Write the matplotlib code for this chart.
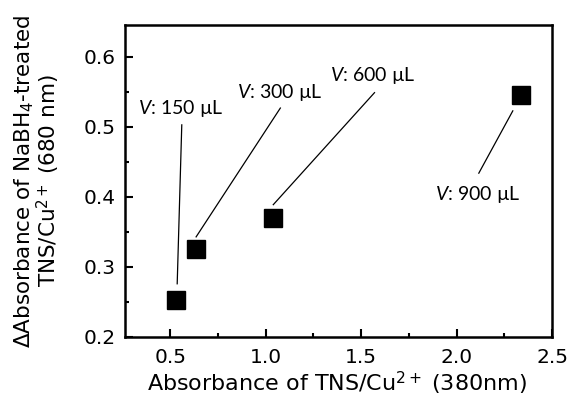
import numpy as np
import matplotlib
matplotlib.use('Agg')
import matplotlib.pyplot as plt
from matplotlib.ticker import MultipleLocator

plt.rcParams['font.family'] = ['DejaVu Sans']
plt.rcParams['mathtext.fontset'] = 'custom'
plt.rcParams['mathtext.rm'] = 'DejaVu Sans'
plt.rcParams['mathtext.it'] = 'Lato:italic'

abs_380 = [0.531, 0.636, 1.037, 2.336]
d_abs_680 = [0.253, 0.325, 0.370, 0.546]
labels = ['$V$: 150 µL', '$V$: 300 µL', '$V$: 600 µL', '$V$: 900 µL']

# label text centre, line start (near text), line end (near point) - data coords
text_pos = [(0.558, 0.527), (1.075, 0.549), (1.562, 0.573), (2.108, 0.404)]
line_from = [(0.561, 0.503), (1.077, 0.527), (1.570, 0.549), (2.294, 0.523)]
line_to = [(0.537, 0.276), (0.636, 0.343), (1.040, 0.389), (2.116, 0.434)]

fig = plt.figure(figsize=(5.71, 3.96), dpi=100)
ax = fig.add_axes([0.219, 0.149, 0.748, 0.788])

ax.plot(abs_380, d_abs_680, 's', color='black', markersize=13, linestyle='none')

for lab, tp, a, b in zip(labels, text_pos, line_from, line_to):
    ax.text(tp[0], tp[1], lab, ha='center', va='center', fontsize=14,
            family=['Lato', 'DejaVu Sans'])
    ax.plot([a[0], b[0]], [a[1], b[1]], color='black', lw=0.9)

ax.set_xlim(0.264, 2.5)
ax.set_ylim(0.2, 0.6457)
ax.xaxis.set_major_locator(MultipleLocator(0.5))
ax.xaxis.set_minor_locator(MultipleLocator(0.25))
ax.yaxis.set_major_locator(MultipleLocator(0.1))
ax.yaxis.set_minor_locator(MultipleLocator(0.05))
ax.set_xticks([0.5, 1.0, 1.5, 2.0, 2.5])
ax.tick_params(which='both', direction='in', width=1.5, labelsize=14.5)
ax.tick_params(which='major', length=6)
ax.tick_params(which='minor', length=3)
ax.tick_params(axis='x', pad=8)
ax.tick_params(axis='y', pad=7)
for s in ax.spines.values():
    s.set_linewidth(1.8)

ax.set_xlabel('Absorbance of TNS/Cu$^{2+}$ (380nm)', fontsize=16)
ax.xaxis.set_label_coords(0.495, -0.103)
ax.set_ylabel('ΔAbsorbance of NaBH$_4$-treated\nTNS/Cu$^{2+}$ (680 nm)', fontsize=15.5,
              linespacing=0.95)
ax.yaxis.set_label_coords(-0.147, 0.5)

fig.savefig('out.png', dpi=100)
